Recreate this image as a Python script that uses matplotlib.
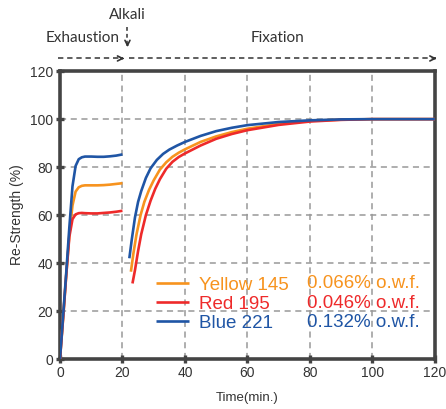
import matplotlib.pyplot as plt

# --- data ---
exh_time_blue = [0, 1, 2, 3, 4, 5, 6, 7, 8, 10, 12, 14, 16, 18, 20]
exh_blue = [0, 18, 36, 55, 72, 80.5, 83.3, 84.1, 84.4, 84.4, 84.3, 84.3, 84.5, 84.8, 85.3]
exh_time_yellow = [0, 1, 2, 3, 4, 5, 6, 7, 8, 10, 12, 14, 16, 18, 20]
exh_yellow = [0, 17, 35, 52, 64, 69.8, 71.6, 72.2, 72.4, 72.4, 72.4, 72.5, 72.7, 73.0, 73.3]
exh_time_red = [0, 1, 2, 3, 4, 5, 6, 7, 8, 10, 12, 14, 16, 18, 20]
exh_red = [0, 17, 35, 51, 58.3, 60.3, 60.8, 60.9, 60.8, 60.7, 60.7, 60.9, 61.1, 61.4, 61.8]

fix_time_blue = [22.2, 23, 24, 25, 26, 27.5, 29, 31, 33, 35, 37.5, 40, 45, 50, 55, 60, 70, 80, 90, 100, 110, 120]
fix_blue = [42, 50, 59, 65.5, 70, 75.5, 79.5, 83, 85.5, 87.3, 89, 90.5, 93, 95, 96.4, 97.5, 98.8, 99.5, 99.9, 100, 100, 100]
fix_time_yellow = [22.7, 23.5, 24.5, 25.8, 27, 28.5, 30, 32, 34, 36, 38, 40, 45, 50, 55, 60, 70, 80, 90, 100, 110, 120]
fix_yellow = [36.4, 44, 52, 60, 65.5, 70.5, 74.5, 79, 82, 84.3, 86, 87.4, 90.5, 92.8, 94.6, 96, 98, 99.3, 99.8, 100, 100, 100]
fix_time_red = [23.2, 24, 25, 26, 27.5, 29, 30.5, 32, 34, 36, 38, 40, 45, 50, 55, 60, 70, 80, 90, 100, 110, 120]
fix_red = [31.5, 37, 45, 52, 60, 66, 71, 75, 79.3, 82.2, 84.2, 85.7, 89, 91.8, 93.8, 95.4, 97.6, 99, 99.7, 100, 100, 100]

dye_names = ['Yellow 145', 'Red 195', 'Blue 221']
dye_conc = ['0.066% o.w.f.', '0.046% o.w.f.', '0.132% o.w.f.']
dye_colors = ['#F7931E', '#EE2A2A', '#1F55A5']

x_ticks = [0, 20, 40, 60, 80, 100, 120]
y_ticks = [0, 20, 40, 60, 80, 100, 120]

plt.rcParams['font.family'] = ['Liberation Sans', 'DejaVu Sans']
dark = '#444444'

fig = plt.figure(figsize=(4.46, 4.09), dpi=100)
ax = fig.add_axes([0.1345, 0.1222, 0.8405, 0.7038])

curves = [(exh_time_yellow, exh_yellow, fix_time_yellow, fix_yellow),
          (exh_time_red, exh_red, fix_time_red, fix_red),
          (exh_time_blue, exh_blue, fix_time_blue, fix_blue)]
handles = []
for (te, ye, tf, yf), name, col in zip(curves, dye_names, dye_colors):
    h, = ax.plot(te, ye, color=col, lw=1.9, solid_capstyle='butt', zorder=3)
    ax.plot(tf, yf, color=col, lw=1.9, solid_capstyle='butt', zorder=3)
    handles.append(h)

ax.set_xlim(0, 120)
ax.set_ylim(0, 120)
ax.set_xticks(x_ticks)
ax.set_yticks(y_ticks)
ax.grid(True, color='#999999', ls=(0, (4, 3)), lw=1.1)
ax.set_axisbelow(True)
for s in ax.spines.values():
    s.set_color(dark)
    s.set_linewidth(2.6)
ax.tick_params(direction='inout', length=6, width=2.4, color=dark,
               labelcolor='#333333', labelsize=10, pad=2)
ax.set_xlabel('Time(min.)', fontsize=9.5, color='#333333', labelpad=9)
ax.set_ylabel('Re-Strength (%)', fontsize=10, color='#333333', labelpad=4)

# legend: names + concentrations
leg = ax.legend(handles, dye_names, loc='upper left', bbox_to_anchor=(0.256, 0.287),
                frameon=False, fontsize=13.5, handlelength=1.76, handletextpad=0.53,
                labelspacing=0.1, borderpad=0, borderaxespad=0)
for txt, col in zip(leg.get_texts(), dye_colors):
    txt.set_color(col)
for i, (c, col) in enumerate(zip(dye_conc, dye_colors)):
    ax.text(0.658, 0.263 - i * 0.0685, c, transform=ax.transAxes, color=col,
            fontsize=13.5, va='center', ha='left')

# stage annotations above the plot
stage = dict(fontsize=11, color='#333333', ha='center', va='center',
             family=['Lato', 'Liberation Sans'], clip_on=False)
ax.text(7.4, 134, 'Exhaustion', **stage)
ax.text(69.6, 134, 'Fixation', **stage)
ax.text(21.4, 143.5, 'Alkali', **stage)

arrow_y = 125.3
ax.plot([-0.6, 20.3], [arrow_y, arrow_y], ls=(0, (3.5, 2.5)), color='#333333', lw=1.1, clip_on=False)
ax.plot([22.2, 120.3], [arrow_y, arrow_y], ls=(0, (3.5, 2.5)), color='#333333', lw=1.1, clip_on=False)
ax.plot([21.6, 21.6], [138.5, 131.0], ls=(0, (2.5, 2)), color='#333333', lw=1.1, clip_on=False)
head = dict(arrowstyle='->', color='#333333', lw=1.2, shrinkA=0, shrinkB=0, mutation_scale=9)
ax.annotate('', xy=(20.6, arrow_y), xytext=(19.6, arrow_y), arrowprops=head, annotation_clip=False)
ax.annotate('', xy=(120.6, arrow_y), xytext=(119.6, arrow_y), arrowprops=head, annotation_clip=False)
ax.annotate('', xy=(21.6, 130.0), xytext=(21.6, 131.5), arrowprops=head, annotation_clip=False)

fig.savefig('out.png', dpi=100)
